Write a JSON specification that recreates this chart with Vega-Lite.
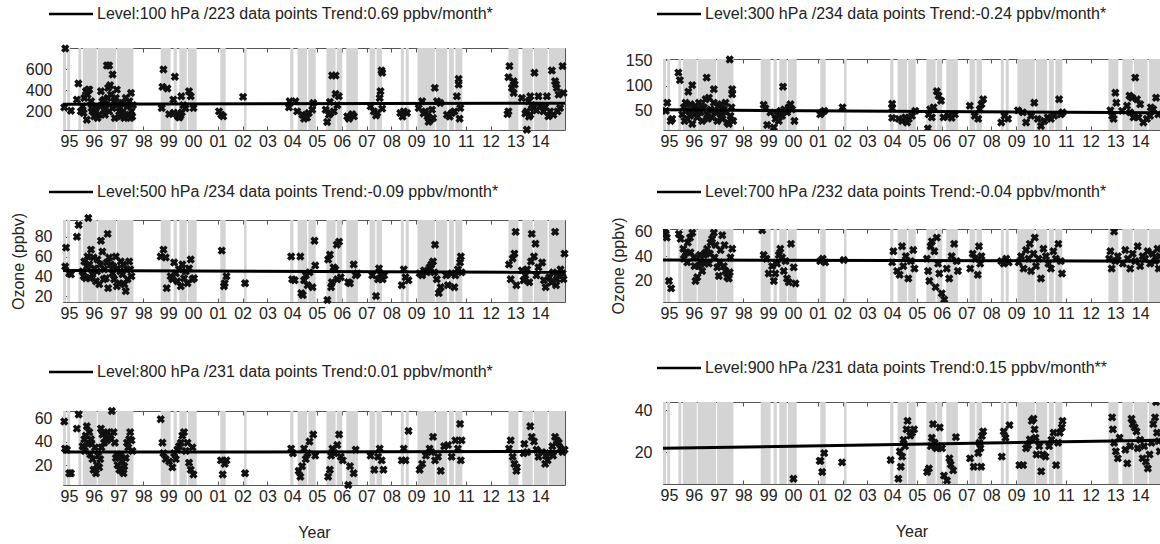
{
"$schema":"https://vega.github.io/schema/vega-lite/v6.json",
"padding":{"left":9,"top":5,"right":0,"bottom":0},
"background":"white",
"config":{"view":{"stroke":"#555","strokeWidth":1},"font":"Liberation Sans",
"axis":{"domain":false,"domainColor":"#555","tickColor":"#555","labelFont":"Liberation Sans","labelFontSize":16,"labelColor":"#222","titleFont":"Liberation Sans","titleFontSize":16,"titleFontWeight":"normal","titleColor":"#222","grid":false,"labelOverlap":false,"labelFlush":false},
"legend":{"orient":"none","title":null,"symbolType":"M-22,0L0,0","symbolSize":16,"symbolStrokeWidth":2.5,"labelFont":"Liberation Sans","labelFontSize":16,"labelColor":"#222","labelOffset":-4,"padding":0,"labelLimit":0}},
"datasets":{
"bands":[{"a":1994.76,"b":1994.88},{"a":1994.93,"b":1995.05},{"a":1995.38,"b":1995.5},{"a":1995.56,"b":1996.12},{"a":1996.16,"b":1996.9},{"a":1996.94,"b":1997.6},{"a":1998.7,"b":1999.1},{"a":1999.22,"b":1999.35},{"a":1999.45,"b":1999.75},{"a":1999.8,"b":2000.15},{"a":2001.1,"b":2001.32},{"a":2002.06,"b":2002.16},{"a":2003.92,"b":2004.05},{"a":2004.22,"b":2004.6},{"a":2004.65,"b":2004.95},{"a":2005.38,"b":2005.75},{"a":2005.8,"b":2006.02},{"a":2006.18,"b":2006.65},{"a":2007.12,"b":2007.35},{"a":2007.4,"b":2007.62},{"a":2008.38,"b":2008.5},{"a":2008.58,"b":2008.7},{"a":2009.05,"b":2009.75},{"a":2009.8,"b":2010.25},{"a":2010.32,"b":2010.52},{"a":2010.58,"b":2010.86},{"a":2012.72,"b":2013.12},{"a":2013.28,"b":2013.7},{"a":2013.75,"b":2014.3},{"a":2014.35,"b":2015.0}],
"p100":[{"t":1994.85,"v":800},{"t":1994.81,"v":238},{"t":1995.08,"v":206},{"t":1995.38,"v":466},{"t":1995.32,"v":312},{"t":1995.48,"v":200},{"t":1995.55,"v":248},{"t":1995.62,"v":328},{"t":1995.68,"v":392},{"t":1995.75,"v":360},{"t":1995.82,"v":408},{"t":1995.89,"v":296},{"t":1995.95,"v":200},{"t":1996.02,"v":152},{"t":1996.09,"v":232},{"t":1996.15,"v":136},{"t":1996.22,"v":168},{"t":1996.29,"v":392},{"t":1996.35,"v":296},{"t":1996.42,"v":216},{"t":1996.49,"v":264},{"t":1996.56,"v":328},{"t":1996.62,"v":200},{"t":1996.69,"v":360},{"t":1995.78,"v":408},{"t":1995.59,"v":184},{"t":1995.72,"v":120},{"t":1995.91,"v":232},{"t":1996.06,"v":184},{"t":1996.26,"v":248},{"t":1996.45,"v":168},{"t":1996.76,"v":232},{"t":1996.82,"v":296},{"t":1996.89,"v":328},{"t":1996.96,"v":264},{"t":1997.03,"v":200},{"t":1997.09,"v":152},{"t":1997.16,"v":184},{"t":1997.23,"v":136},{"t":1997.29,"v":168},{"t":1997.36,"v":248},{"t":1997.43,"v":296},{"t":1997.47,"v":136},{"t":1997.52,"v":200},{"t":1997.16,"v":280},{"t":1997.29,"v":328},{"t":1996.85,"v":136},{"t":1997.06,"v":232},{"t":1996.42,"v":312},{"t":1996.58,"v":424},{"t":1996.53,"v":638},{"t":1996.62,"v":638},{"t":1996.76,"v":552},{"t":1996.66,"v":450},{"t":1996.93,"v":408},{"t":1997.5,"v":376},{"t":1997.55,"v":150},{"t":1997.58,"v":260},{"t":1998.81,"v":600},{"t":1998.77,"v":434},{"t":1998.97,"v":418},{"t":1998.74,"v":232},{"t":1999.27,"v":530},{"t":1999.21,"v":312},{"t":1999.04,"v":174},{"t":1999.23,"v":186},{"t":1999.4,"v":150},{"t":1999.45,"v":140},{"t":1999.5,"v":160},{"t":1999.55,"v":190},{"t":1999.53,"v":344},{"t":1999.61,"v":258},{"t":1999.84,"v":392},{"t":1999.91,"v":344},{"t":2000.02,"v":232},{"t":1999.7,"v":230},{"t":1999.35,"v":170},{"t":2001.05,"v":200},{"t":2001.14,"v":168},{"t":2001.22,"v":152},{"t":2002.02,"v":338},{"t":2003.87,"v":238},{"t":2003.9,"v":296},{"t":2004.13,"v":296},{"t":2004.2,"v":200},{"t":2004.41,"v":168},{"t":2004.54,"v":152},{"t":2004.67,"v":184},{"t":2004.81,"v":216},{"t":2004.85,"v":280},{"t":2004.48,"v":130},{"t":2004.6,"v":140},{"t":2005.35,"v":216},{"t":2005.41,"v":98},{"t":2005.48,"v":168},{"t":2005.55,"v":184},{"t":2005.61,"v":542},{"t":2005.75,"v":542},{"t":2005.75,"v":366},{"t":2005.88,"v":344},{"t":2005.82,"v":258},{"t":2005.68,"v":200},{"t":2005.52,"v":290},{"t":2006.22,"v":152},{"t":2006.35,"v":152},{"t":2006.49,"v":152},{"t":2006.42,"v":174},{"t":2006.29,"v":130},{"t":2007.16,"v":248},{"t":2007.29,"v":200},{"t":2007.43,"v":184},{"t":2007.53,"v":328},{"t":2007.56,"v":392},{"t":2007.6,"v":590},{"t":2007.63,"v":568},{"t":2007.63,"v":226},{"t":2007.38,"v":160},{"t":2008.36,"v":184},{"t":2008.5,"v":200},{"t":2008.63,"v":184},{"t":2008.45,"v":150},{"t":2009.1,"v":232},{"t":2009.24,"v":296},{"t":2009.37,"v":200},{"t":2009.46,"v":152},{"t":2009.57,"v":120},{"t":2009.68,"v":136},{"t":2009.75,"v":424},{"t":2009.64,"v":216},{"t":2009.84,"v":296},{"t":2009.97,"v":280},{"t":2009.5,"v":100},{"t":2009.3,"v":180},{"t":2010.24,"v":168},{"t":2010.44,"v":184},{"t":2010.54,"v":200},{"t":2010.64,"v":344},{"t":2010.71,"v":510},{"t":2010.71,"v":456},{"t":2010.75,"v":130},{"t":2010.78,"v":232},{"t":2010.35,"v":150},{"t":2012.68,"v":174},{"t":2012.72,"v":200},{"t":2012.72,"v":526},{"t":2012.76,"v":632},{"t":2012.93,"v":488},{"t":2012.97,"v":456},{"t":2012.93,"v":376},{"t":2012.86,"v":424},{"t":2013.26,"v":328},{"t":2013.46,"v":24},{"t":2013.53,"v":296},{"t":2013.6,"v":344},{"t":2013.46,"v":200},{"t":2013.6,"v":168},{"t":2013.77,"v":568},{"t":2013.73,"v":232},{"t":2013.93,"v":344},{"t":2014.0,"v":248},{"t":2014.13,"v":200},{"t":2014.27,"v":344},{"t":2014.4,"v":200},{"t":2014.47,"v":590},{"t":2014.6,"v":488},{"t":2014.64,"v":456},{"t":2014.67,"v":424},{"t":2014.74,"v":360},{"t":2014.8,"v":232},{"t":2014.9,"v":632},{"t":2014.94,"v":376},{"t":2014.53,"v":168},{"t":2014.33,"v":152},{"t":2013.4,"v":180},{"t":2013.66,"v":260},{"t":2013.85,"v":210},{"t":2014.2,"v":240},{"t":2014.7,"v":200},{"t":2013.55,"v":150}],
"p300":[{"t":1994.87,"v":50},{"t":1994.93,"v":66},{"t":1995.07,"v":30},{"t":1995.13,"v":34},{"t":1995.38,"v":126},{"t":1995.44,"v":111},{"t":1995.78,"v":88},{"t":1995.94,"v":101},{"t":1996.52,"v":116},{"t":1996.81,"v":93},{"t":1997.45,"v":152},{"t":1997.55,"v":93},{"t":1997.55,"v":83},{"t":1995.54,"v":43},{"t":1995.6,"v":57},{"t":1995.67,"v":66},{"t":1995.74,"v":34},{"t":1995.8,"v":50},{"t":1995.87,"v":63},{"t":1995.94,"v":24},{"t":1996.01,"v":43},{"t":1996.07,"v":60},{"t":1996.14,"v":37},{"t":1996.21,"v":66},{"t":1996.27,"v":47},{"t":1996.34,"v":30},{"t":1996.41,"v":57},{"t":1996.48,"v":73},{"t":1996.54,"v":43},{"t":1996.61,"v":76},{"t":1996.68,"v":53},{"t":1996.74,"v":37},{"t":1996.81,"v":66},{"t":1996.88,"v":47},{"t":1996.95,"v":30},{"t":1997.01,"v":60},{"t":1997.08,"v":43},{"t":1997.15,"v":34},{"t":1997.21,"v":53},{"t":1997.28,"v":66},{"t":1997.35,"v":27},{"t":1997.41,"v":24},{"t":1997.48,"v":40},{"t":1997.52,"v":57},{"t":1997.59,"v":30},{"t":1995.63,"v":30},{"t":1995.85,"v":40},{"t":1996.11,"v":50},{"t":1996.3,"v":60},{"t":1996.57,"v":34},{"t":1996.84,"v":50},{"t":1997.11,"v":63},{"t":1997.31,"v":47},{"t":1998.82,"v":62},{"t":1998.89,"v":55},{"t":1998.96,"v":22},{"t":1999.09,"v":47},{"t":1999.23,"v":17},{"t":1999.29,"v":34},{"t":1999.36,"v":43},{"t":1999.43,"v":30},{"t":1999.5,"v":50},{"t":1999.56,"v":40},{"t":1999.6,"v":98},{"t":1999.65,"v":53},{"t":1999.76,"v":47},{"t":1999.83,"v":57},{"t":1999.9,"v":63},{"t":1999.96,"v":53},{"t":2000.06,"v":30},{"t":2001.17,"v":47},{"t":2001.26,"v":50},{"t":2001.1,"v":43},{"t":2002.0,"v":57},{"t":2004.0,"v":64},{"t":2004.0,"v":55},{"t":2004.0,"v":36},{"t":2004.27,"v":34},{"t":2004.4,"v":30},{"t":2004.53,"v":37},{"t":2004.67,"v":34},{"t":2004.8,"v":40},{"t":2004.93,"v":50},{"t":2004.6,"v":27},{"t":2005.44,"v":15},{"t":2005.47,"v":43},{"t":2005.53,"v":53},{"t":2005.6,"v":37},{"t":2005.67,"v":57},{"t":2005.8,"v":89},{"t":2005.87,"v":80},{"t":2005.97,"v":70},{"t":2006.07,"v":37},{"t":2006.27,"v":40},{"t":2006.4,"v":36},{"t":2006.53,"v":43},{"t":2007.13,"v":60},{"t":2007.33,"v":40},{"t":2007.47,"v":34},{"t":2007.53,"v":53},{"t":2007.6,"v":63},{"t":2007.67,"v":73},{"t":2008.4,"v":27},{"t":2008.53,"v":40},{"t":2008.67,"v":34},{"t":2009.07,"v":51},{"t":2009.27,"v":47},{"t":2009.4,"v":27},{"t":2009.6,"v":40},{"t":2009.73,"v":66},{"t":2009.87,"v":34},{"t":2010.0,"v":20},{"t":2010.13,"v":30},{"t":2010.27,"v":37},{"t":2010.4,"v":34},{"t":2010.53,"v":40},{"t":2010.73,"v":73},{"t":2010.8,"v":43},{"t":2010.87,"v":47},{"t":2012.8,"v":51},{"t":2012.87,"v":40},{"t":2012.93,"v":34},{"t":2013.0,"v":86},{"t":2013.04,"v":66},{"t":2013.27,"v":50},{"t":2013.47,"v":60},{"t":2013.57,"v":80},{"t":2013.67,"v":76},{"t":2013.8,"v":116},{"t":2013.87,"v":73},{"t":2013.93,"v":37},{"t":2014.0,"v":63},{"t":2014.13,"v":27},{"t":2014.27,"v":34},{"t":2014.4,"v":40},{"t":2014.53,"v":53},{"t":2014.64,"v":76},{"t":2014.73,"v":43},{"t":2013.73,"v":37},{"t":2013.6,"v":47},{"t":2014.43,"v":57}],
"p500":[{"t":1994.85,"v":50},{"t":1994.88,"v":69},{"t":1995.01,"v":43},{"t":1995.08,"v":42},{"t":1995.32,"v":80},{"t":1995.39,"v":92},{"t":1995.78,"v":99},{"t":1995.55,"v":45},{"t":1995.62,"v":55},{"t":1995.68,"v":38},{"t":1995.75,"v":60},{"t":1995.82,"v":52},{"t":1995.89,"v":67},{"t":1995.95,"v":42},{"t":1996.02,"v":48},{"t":1996.09,"v":35},{"t":1996.15,"v":57},{"t":1996.22,"v":32},{"t":1996.29,"v":76},{"t":1996.35,"v":65},{"t":1996.42,"v":47},{"t":1996.49,"v":38},{"t":1996.56,"v":83},{"t":1996.58,"v":28},{"t":1996.62,"v":59},{"t":1996.69,"v":52},{"t":1996.76,"v":43},{"t":1996.82,"v":37},{"t":1996.89,"v":60},{"t":1996.96,"v":48},{"t":1997.03,"v":33},{"t":1997.09,"v":55},{"t":1997.16,"v":42},{"t":1997.23,"v":32},{"t":1997.29,"v":25},{"t":1997.36,"v":37},{"t":1997.43,"v":55},{"t":1997.47,"v":47},{"t":1997.52,"v":40},{"t":1995.59,"v":40},{"t":1995.72,"v":50},{"t":1995.86,"v":38},{"t":1995.99,"v":59},{"t":1996.13,"v":45},{"t":1996.26,"v":52},{"t":1996.4,"v":37},{"t":1996.53,"v":54},{"t":1996.79,"v":50},{"t":1996.93,"v":30},{"t":1997.07,"v":45},{"t":1997.2,"v":52},{"t":1997.34,"v":47},{"t":1998.7,"v":60},{"t":1998.81,"v":67},{"t":1998.9,"v":59},{"t":1998.94,"v":28},{"t":1999.24,"v":54},{"t":1999.1,"v":40},{"t":1999.17,"v":37},{"t":1999.31,"v":43},{"t":1999.37,"v":35},{"t":1999.44,"v":47},{"t":1999.51,"v":30},{"t":1999.57,"v":52},{"t":1999.64,"v":38},{"t":1999.71,"v":45},{"t":1999.78,"v":33},{"t":1999.84,"v":48},{"t":1999.91,"v":57},{"t":1999.98,"v":37},{"t":2000.04,"v":38},{"t":2001.16,"v":66},{"t":2001.25,"v":30},{"t":2001.28,"v":33},{"t":2001.35,"v":40},{"t":2002.1,"v":33},{"t":2003.96,"v":60},{"t":2004.0,"v":37},{"t":2004.1,"v":36},{"t":2004.33,"v":60},{"t":2004.37,"v":23},{"t":2004.43,"v":21},{"t":2004.48,"v":36},{"t":2004.55,"v":41},{"t":2004.62,"v":31},{"t":2004.7,"v":44},{"t":2004.82,"v":29},{"t":2004.9,"v":76},{"t":2004.93,"v":51},{"t":2005.42,"v":16},{"t":2005.45,"v":57},{"t":2005.52,"v":62},{"t":2005.57,"v":29},{"t":2005.6,"v":34},{"t":2005.67,"v":49},{"t":2005.74,"v":47},{"t":2005.8,"v":72},{"t":2005.89,"v":75},{"t":2005.82,"v":37},{"t":2005.96,"v":39},{"t":2006.26,"v":34},{"t":2006.33,"v":33},{"t":2006.48,"v":52},{"t":2006.56,"v":41},{"t":2006.63,"v":43},{"t":2007.23,"v":41},{"t":2007.38,"v":20},{"t":2007.46,"v":37},{"t":2007.5,"v":48},{"t":2007.56,"v":42},{"t":2007.65,"v":37},{"t":2007.71,"v":41},{"t":2008.42,"v":31},{"t":2008.5,"v":47},{"t":2008.57,"v":39},{"t":2008.69,"v":36},{"t":2009.14,"v":43},{"t":2009.24,"v":41},{"t":2009.32,"v":46},{"t":2009.43,"v":44},{"t":2009.54,"v":49},{"t":2009.61,"v":52},{"t":2009.68,"v":55},{"t":2009.76,"v":72},{"t":2009.73,"v":44},{"t":2009.83,"v":37},{"t":2009.91,"v":23},{"t":2009.99,"v":29},{"t":2010.21,"v":41},{"t":2010.28,"v":31},{"t":2010.43,"v":43},{"t":2010.54,"v":29},{"t":2010.58,"v":41},{"t":2010.68,"v":47},{"t":2010.77,"v":54},{"t":2010.8,"v":60},{"t":2010.83,"v":44},{"t":2012.74,"v":52},{"t":2012.81,"v":37},{"t":2012.89,"v":58},{"t":2012.96,"v":63},{"t":2013.04,"v":31},{"t":2013.01,"v":85},{"t":2013.26,"v":46},{"t":2013.33,"v":36},{"t":2013.4,"v":41},{"t":2013.47,"v":47},{"t":2013.56,"v":34},{"t":2013.63,"v":55},{"t":2013.66,"v":83},{"t":2013.75,"v":60},{"t":2013.81,"v":73},{"t":2013.85,"v":41},{"t":2013.93,"v":49},{"t":2014.08,"v":54},{"t":2014.15,"v":36},{"t":2014.22,"v":29},{"t":2014.37,"v":39},{"t":2014.52,"v":44},{"t":2014.6,"v":85},{"t":2014.64,"v":31},{"t":2014.75,"v":41},{"t":2014.82,"v":47},{"t":2014.9,"v":43},{"t":2014.98,"v":63},{"t":2014.94,"v":37},{"t":2014.67,"v":37},{"t":2014.45,"v":34}],
"p700":[{"t":1994.84,"v":62},{"t":1994.87,"v":58},{"t":1994.91,"v":55},{"t":1995.0,"v":20},{"t":1995.09,"v":14},{"t":1995.4,"v":58},{"t":1995.47,"v":54},{"t":1995.58,"v":46},{"t":1995.67,"v":43},{"t":1995.76,"v":51},{"t":1995.85,"v":55},{"t":1995.94,"v":59},{"t":1996.01,"v":39},{"t":1996.07,"v":20},{"t":1996.14,"v":23},{"t":1996.21,"v":32},{"t":1996.27,"v":36},{"t":1996.34,"v":28},{"t":1996.41,"v":41},{"t":1996.48,"v":43},{"t":1996.54,"v":46},{"t":1996.61,"v":34},{"t":1996.68,"v":51},{"t":1996.74,"v":54},{"t":1996.81,"v":59},{"t":1996.88,"v":49},{"t":1996.95,"v":31},{"t":1997.01,"v":24},{"t":1997.08,"v":45},{"t":1997.15,"v":57},{"t":1997.21,"v":32},{"t":1997.28,"v":28},{"t":1997.35,"v":23},{"t":1997.41,"v":22},{"t":1997.48,"v":39},{"t":1997.55,"v":46},{"t":1995.6,"v":38},{"t":1995.74,"v":35},{"t":1995.87,"v":43},{"t":1996.03,"v":32},{"t":1996.25,"v":41},{"t":1996.44,"v":34},{"t":1996.65,"v":42},{"t":1996.84,"v":39},{"t":1997.05,"v":35},{"t":1997.24,"v":49},{"t":1997.45,"v":27},{"t":1998.76,"v":61},{"t":1998.82,"v":41},{"t":1998.93,"v":38},{"t":1999.02,"v":26},{"t":1999.16,"v":32},{"t":1999.23,"v":20},{"t":1999.29,"v":26},{"t":1999.36,"v":34},{"t":1999.43,"v":41},{"t":1999.49,"v":46},{"t":1999.56,"v":39},{"t":1999.63,"v":28},{"t":1999.7,"v":36},{"t":1999.76,"v":22},{"t":1999.83,"v":19},{"t":1999.92,"v":50},{"t":2000.03,"v":31},{"t":2000.1,"v":18},{"t":2001.1,"v":36},{"t":2001.2,"v":38},{"t":2001.3,"v":35},{"t":2002.05,"v":37},{"t":2004.0,"v":35},{"t":2004.05,"v":44},{"t":2004.2,"v":28},{"t":2004.3,"v":25},{"t":2004.4,"v":48},{"t":2004.45,"v":32},{"t":2004.55,"v":40},{"t":2004.65,"v":22},{"t":2004.75,"v":36},{"t":2004.85,"v":45},{"t":2004.9,"v":30},{"t":2005.4,"v":38},{"t":2005.45,"v":28},{"t":2005.5,"v":20},{"t":2005.55,"v":48},{"t":2005.6,"v":52},{"t":2005.7,"v":44},{"t":2005.75,"v":15},{"t":2005.8,"v":55},{"t":2005.85,"v":34},{"t":2005.9,"v":26},{"t":2006.0,"v":10},{"t":2006.1,"v":5},{"t":2006.2,"v":30},{"t":2006.3,"v":22},{"t":2006.4,"v":40},{"t":2006.5,"v":50},{"t":2006.6,"v":36},{"t":2006.65,"v":28},{"t":2007.15,"v":30},{"t":2007.25,"v":42},{"t":2007.35,"v":38},{"t":2007.45,"v":25},{"t":2007.5,"v":48},{"t":2007.55,"v":34},{"t":2007.6,"v":40},{"t":2008.4,"v":36},{"t":2008.5,"v":34},{"t":2008.6,"v":38},{"t":2008.7,"v":35},{"t":2009.1,"v":35},{"t":2009.2,"v":40},{"t":2009.3,"v":30},{"t":2009.4,"v":45},{"t":2009.5,"v":38},{"t":2009.55,"v":50},{"t":2009.6,"v":28},{"t":2009.7,"v":42},{"t":2009.75,"v":55},{"t":2009.8,"v":32},{"t":2009.9,"v":38},{"t":2010.0,"v":22},{"t":2010.1,"v":46},{"t":2010.2,"v":40},{"t":2010.3,"v":34},{"t":2010.4,"v":30},{"t":2010.5,"v":44},{"t":2010.6,"v":38},{"t":2010.7,"v":50},{"t":2010.8,"v":36},{"t":2010.85,"v":26},{"t":2012.75,"v":38},{"t":2012.8,"v":44},{"t":2012.85,"v":30},{"t":2012.95,"v":60},{"t":2013.0,"v":36},{"t":2013.1,"v":40},{"t":2013.3,"v":34},{"t":2013.4,"v":45},{"t":2013.5,"v":38},{"t":2013.6,"v":30},{"t":2013.7,"v":42},{"t":2013.8,"v":36},{"t":2013.9,"v":48},{"t":2014.0,"v":32},{"t":2014.1,"v":40},{"t":2014.2,"v":38},{"t":2014.3,"v":44},{"t":2014.4,"v":34},{"t":2014.5,"v":42},{"t":2014.6,"v":36},{"t":2014.7,"v":46},{"t":2014.78,"v":40},{"t":2014.75,"v":30},{"t":2014.65,"v":38}],
"p800":[{"t":1994.81,"v":57},{"t":1994.84,"v":34},{"t":1994.92,"v":33},{"t":1995.01,"v":13},{"t":1995.08,"v":13},{"t":1995.32,"v":51},{"t":1995.39,"v":63},{"t":1995.55,"v":36},{"t":1995.62,"v":42},{"t":1995.68,"v":45},{"t":1995.72,"v":53},{"t":1995.78,"v":38},{"t":1995.82,"v":48},{"t":1995.86,"v":29},{"t":1995.89,"v":42},{"t":1995.95,"v":25},{"t":1995.99,"v":16},{"t":1996.05,"v":35},{"t":1996.09,"v":13},{"t":1996.13,"v":20},{"t":1996.18,"v":28},{"t":1996.22,"v":18},{"t":1996.29,"v":51},{"t":1996.31,"v":35},{"t":1996.35,"v":46},{"t":1996.42,"v":39},{"t":1996.49,"v":43},{"t":1996.56,"v":48},{"t":1996.62,"v":43},{"t":1996.69,"v":45},{"t":1996.73,"v":66},{"t":1996.8,"v":48},{"t":1996.85,"v":39},{"t":1996.89,"v":26},{"t":1996.96,"v":20},{"t":1997.03,"v":16},{"t":1997.07,"v":28},{"t":1997.12,"v":15},{"t":1997.16,"v":23},{"t":1997.23,"v":19},{"t":1997.29,"v":26},{"t":1997.34,"v":39},{"t":1997.39,"v":35},{"t":1997.43,"v":42},{"t":1997.47,"v":48},{"t":1997.52,"v":41},{"t":1997.56,"v":32},{"t":1995.64,"v":32},{"t":1995.91,"v":38},{"t":1996.26,"v":25},{"t":1996.53,"v":41},{"t":1996.95,"v":29},{"t":1997.2,"v":13},{"t":1998.7,"v":59},{"t":1998.77,"v":39},{"t":1998.81,"v":30},{"t":1998.9,"v":25},{"t":1999.04,"v":23},{"t":1999.17,"v":18},{"t":1999.24,"v":30},{"t":1999.31,"v":25},{"t":1999.37,"v":33},{"t":1999.44,"v":36},{"t":1999.51,"v":39},{"t":1999.57,"v":45},{"t":1999.64,"v":48},{"t":1999.71,"v":32},{"t":1999.78,"v":39},{"t":1999.84,"v":22},{"t":1999.91,"v":16},{"t":2000.02,"v":12},{"t":1999.98,"v":35},{"t":2001.13,"v":24},{"t":2001.2,"v":12},{"t":2001.28,"v":21},{"t":2001.35,"v":24},{"t":2002.1,"v":13},{"t":2003.96,"v":34},{"t":2004.03,"v":30},{"t":2004.26,"v":15},{"t":2004.33,"v":10},{"t":2004.4,"v":19},{"t":2004.48,"v":34},{"t":2004.55,"v":25},{"t":2004.62,"v":30},{"t":2004.7,"v":40},{"t":2004.85,"v":46},{"t":2004.93,"v":28},{"t":2005.45,"v":10},{"t":2005.52,"v":16},{"t":2005.57,"v":28},{"t":2005.62,"v":34},{"t":2005.71,"v":30},{"t":2005.82,"v":37},{"t":2005.89,"v":46},{"t":2005.96,"v":27},{"t":2006.04,"v":24},{"t":2006.26,"v":3},{"t":2006.33,"v":19},{"t":2006.48,"v":13},{"t":2006.56,"v":33},{"t":2007.16,"v":28},{"t":2007.31,"v":16},{"t":2007.46,"v":27},{"t":2007.53,"v":34},{"t":2007.61,"v":24},{"t":2007.68,"v":16},{"t":2008.42,"v":24},{"t":2008.5,"v":34},{"t":2008.57,"v":24},{"t":2008.69,"v":49},{"t":2009.14,"v":16},{"t":2009.24,"v":21},{"t":2009.39,"v":28},{"t":2009.54,"v":34},{"t":2009.61,"v":31},{"t":2009.68,"v":44},{"t":2009.76,"v":24},{"t":2009.88,"v":27},{"t":2009.99,"v":15},{"t":2010.13,"v":36},{"t":2010.28,"v":37},{"t":2010.43,"v":27},{"t":2010.58,"v":41},{"t":2010.68,"v":34},{"t":2010.77,"v":55},{"t":2010.8,"v":24},{"t":2010.83,"v":41},{"t":2012.74,"v":34},{"t":2012.81,"v":41},{"t":2012.89,"v":27},{"t":2012.96,"v":21},{"t":2013.06,"v":18},{"t":2013.04,"v":15},{"t":2013.33,"v":30},{"t":2013.47,"v":31},{"t":2013.6,"v":53},{"t":2013.66,"v":44},{"t":2013.75,"v":40},{"t":2013.85,"v":33},{"t":2013.93,"v":27},{"t":2014.08,"v":31},{"t":2014.2,"v":21},{"t":2014.3,"v":24},{"t":2014.37,"v":30},{"t":2014.49,"v":36},{"t":2014.6,"v":44},{"t":2014.67,"v":41},{"t":2014.75,"v":39},{"t":2014.82,"v":34},{"t":2014.9,"v":31},{"t":2014.98,"v":33},{"t":2014.52,"v":28},{"t":2014.23,"v":28},{"t":2013.36,"v":38}],
"p900":[{"t":2000.02,"v":7.5},{"t":2001.11,"v":16},{"t":2001.18,"v":10.7},{"t":2001.26,"v":19.7},{"t":2001.08,"v":16},{"t":2001.98,"v":15.3},{"t":2003.94,"v":16.4},{"t":2004.25,"v":7.5},{"t":2004.31,"v":20.5},{"t":2004.35,"v":13.2},{"t":2004.4,"v":18},{"t":2004.46,"v":26},{"t":2004.52,"v":23},{"t":2004.58,"v":31},{"t":2004.62,"v":35},{"t":2004.73,"v":28},{"t":2004.8,"v":29.4},{"t":2004.88,"v":31},{"t":2005.41,"v":10.7},{"t":2005.48,"v":12.4},{"t":2005.56,"v":23},{"t":2005.6,"v":27},{"t":2005.65,"v":33.5},{"t":2005.71,"v":24.6},{"t":2005.78,"v":22},{"t":2005.84,"v":23},{"t":2005.92,"v":31.9},{"t":2006.01,"v":22},{"t":2006.09,"v":9},{"t":2006.21,"v":6.7},{"t":2006.31,"v":17.2},{"t":2006.36,"v":14.3},{"t":2006.46,"v":11.5},{"t":2006.57,"v":27.3},{"t":2007.14,"v":17.2},{"t":2007.29,"v":13.2},{"t":2007.52,"v":24.6},{"t":2007.56,"v":22},{"t":2007.62,"v":27.8},{"t":2007.67,"v":30},{"t":2007.47,"v":19.7},{"t":2007.59,"v":13.2},{"t":2008.42,"v":18},{"t":2008.5,"v":30},{"t":2008.57,"v":27},{"t":2008.73,"v":33},{"t":2009.13,"v":14},{"t":2009.28,"v":14},{"t":2009.4,"v":22},{"t":2009.48,"v":23.4},{"t":2009.55,"v":26.2},{"t":2009.63,"v":35},{"t":2009.7,"v":36},{"t":2009.74,"v":31},{"t":2009.78,"v":27},{"t":2009.82,"v":19},{"t":2009.93,"v":23},{"t":2010.01,"v":11},{"t":2010.08,"v":19},{"t":2010.18,"v":18},{"t":2010.33,"v":23},{"t":2010.42,"v":26},{"t":2010.51,"v":29.4},{"t":2010.61,"v":14},{"t":2010.69,"v":24.6},{"t":2010.76,"v":29.4},{"t":2010.84,"v":31.9},{"t":2010.87,"v":35},{"t":2012.87,"v":36.7},{"t":2012.9,"v":31},{"t":2012.95,"v":24.6},{"t":2013.02,"v":20.5},{"t":2013.1,"v":17.2},{"t":2013.17,"v":27},{"t":2013.4,"v":21.3},{"t":2013.48,"v":14.8},{"t":2013.6,"v":23},{"t":2013.65,"v":36},{"t":2013.7,"v":33.5},{"t":2013.78,"v":31.9},{"t":2013.85,"v":30},{"t":2013.9,"v":22},{"t":2014.0,"v":26},{"t":2014.1,"v":17.2},{"t":2014.23,"v":15.6},{"t":2014.31,"v":12.4},{"t":2014.38,"v":19},{"t":2014.53,"v":33.5},{"t":2014.6,"v":36.7},{"t":2014.64,"v":44},{"t":2014.68,"v":29.4},{"t":2014.75,"v":25.4},{"t":2014.79,"v":20.5},{"t":2014.46,"v":24.6},{"t":2014.16,"v":23}]
},
"concat":[
{"vconcat":[
{"width":502,"height":82,"layer":[
{"data":{"name":"bands"},"mark":{"type":"rect","color":"#d4d4d4"},"encoding":{"x":{"field":"a","type":"quantitative","scale":{"domain":[1994.76,2015],"nice":false,"zero":false},"axis":{"orient":"bottom","values":[1995,1996,1997,1998,1999,2000,2001,2002,2003,2004,2005,2006,2007,2008,2009,2010,2011,2012,2013,2014],"labelExpr":"substring(format(datum.value,'d'),2,4)","tickSize":-4,"labelPadding":7,"labelOverlap":false,"title":null}},"x2":{"field":"b"}}},
{"data":{"name":"p100"},"mark":{"type":"point","shape":"cross","angle":45,"filled":true,"size":72,"opacity":1,"color":"#111"},"encoding":{"x":{"field":"t","type":"quantitative","scale":{"domain":[1994.76,2015],"nice":false,"zero":false},"axis":{"orient":"top","values":[1995,1996,1997,1998,1999,2000,2001,2002,2003,2004,2005,2006,2007,2008,2009,2010,2011,2012,2013,2014],"labels":false,"tickSize":-4,"title":null}},"y":{"field":"v","type":"quantitative","scale":{"domain":[22,805],"nice":false,"zero":false},"axis":{"values":[200,400,600],"tickSize":-4,"labelPadding":15,"labelOverlap":false,"title":null}}}},
{"data":{"values":[{"t":1994.76,"v":268,"k":"Level:100 hPa /223 data points Trend:0.69 ppbv/month*"},{"t":2015,"v":278,"k":"Level:100 hPa /223 data points Trend:0.69 ppbv/month*"}]},"mark":{"type":"line","strokeWidth":3},"encoding":{"x":{"field":"t","type":"quantitative","scale":{"domain":[1994.76,2015],"nice":false,"zero":false},"axis":{"orient":"bottom","labels":false,"ticks":false,"title":null}},"y":{"field":"v","type":"quantitative","scale":{"domain":[22,805],"nice":false,"zero":false},"axis":{"values":[200,400,600],"tickSize":-4,"labelPadding":15,"labelOverlap":false,"title":null}},"color":{"field":"k","type":"nominal","scale":{"range":["#000000"]},"legend":{"legendX":22,"legendY":-42}}}}
]},
{"width":502,"height":82,"layer":[
{"data":{"name":"bands"},"mark":{"type":"rect","color":"#d4d4d4"},"encoding":{"x":{"field":"a","type":"quantitative","scale":{"domain":[1994.76,2015],"nice":false,"zero":false},"axis":{"orient":"bottom","values":[1995,1996,1997,1998,1999,2000,2001,2002,2003,2004,2005,2006,2007,2008,2009,2010,2011,2012,2013,2014],"labelExpr":"substring(format(datum.value,'d'),2,4)","tickSize":-4,"labelPadding":7,"labelOverlap":false,"title":" ","titleFontSize":1,"titlePadding":7}},"x2":{"field":"b"}}},
{"data":{"name":"p500"},"mark":{"type":"point","shape":"cross","angle":45,"filled":true,"size":72,"opacity":1,"color":"#111"},"encoding":{"x":{"field":"t","type":"quantitative","scale":{"domain":[1994.76,2015],"nice":false,"zero":false},"axis":{"orient":"top","values":[1995,1996,1997,1998,1999,2000,2001,2002,2003,2004,2005,2006,2007,2008,2009,2010,2011,2012,2013,2014],"labels":false,"tickSize":-4,"title":null}},"y":{"field":"v","type":"quantitative","scale":{"domain":[14,97],"nice":false,"zero":false},"axis":{"values":[20,40,60,80],"tickSize":-4,"labelPadding":15,"labelOverlap":false,"title":"Ozone (ppbv)","titlePadding":8}}}},
{"data":{"values":[{"t":1994.76,"v":46,"k":"Level:500 hPa /234 data points Trend:-0.09 ppbv/month*"},{"t":2015,"v":44,"k":"Level:500 hPa /234 data points Trend:-0.09 ppbv/month*"}]},"mark":{"type":"line","strokeWidth":3},"encoding":{"x":{"field":"t","type":"quantitative","scale":{"domain":[1994.76,2015],"nice":false,"zero":false},"axis":{"orient":"bottom","labels":false,"ticks":false,"title":null}},"y":{"field":"v","type":"quantitative","scale":{"domain":[14,97],"nice":false,"zero":false},"axis":{"values":[20,40,60,80],"tickSize":-4,"labelPadding":15,"labelOverlap":false,"title":"Ozone (ppbv)","titlePadding":8}},"color":{"field":"k","type":"nominal","scale":{"range":["#000000"]},"legend":{"legendX":22,"legendY":-36}}}}
]},
{"width":502,"height":74,"layer":[
{"data":{"name":"bands"},"mark":{"type":"rect","color":"#d4d4d4"},"encoding":{"x":{"field":"a","type":"quantitative","scale":{"domain":[1994.76,2015],"nice":false,"zero":false},"axis":{"orient":"bottom","values":[1995,1996,1997,1998,1999,2000,2001,2002,2003,2004,2005,2006,2007,2008,2009,2010,2011,2012,2013,2014],"labelExpr":"substring(format(datum.value,'d'),2,4)","tickSize":-4,"labelPadding":7,"labelOverlap":false,"title":"Year","titlePadding":20}},"x2":{"field":"b"}}},
{"data":{"name":"p800"},"mark":{"type":"point","shape":"cross","angle":45,"filled":true,"size":72,"opacity":1,"color":"#111"},"encoding":{"x":{"field":"t","type":"quantitative","scale":{"domain":[1994.76,2015],"nice":false,"zero":false},"axis":{"orient":"top","values":[1995,1996,1997,1998,1999,2000,2001,2002,2003,2004,2005,2006,2007,2008,2009,2010,2011,2012,2013,2014],"labels":false,"tickSize":-4,"title":null}},"y":{"field":"v","type":"quantitative","scale":{"domain":[3,66],"nice":false,"zero":false},"axis":{"values":[20,40,60],"tickSize":-4,"labelPadding":15,"labelOverlap":false,"title":null}}}},
{"data":{"values":[{"t":1994.76,"v":31,"k":"Level:800 hPa /231 data points Trend:0.01 ppbv/month*"},{"t":2015,"v":31.5,"k":"Level:800 hPa /231 data points Trend:0.01 ppbv/month*"}]},"mark":{"type":"line","strokeWidth":3},"encoding":{"x":{"field":"t","type":"quantitative","scale":{"domain":[1994.76,2015],"nice":false,"zero":false},"axis":{"orient":"bottom","labels":false,"ticks":false,"title":null}},"y":{"field":"v","type":"quantitative","scale":{"domain":[3,66],"nice":false,"zero":false},"axis":{"values":[20,40,60],"tickSize":-4,"labelPadding":15,"labelOverlap":false,"title":null}},"color":{"field":"k","type":"nominal","scale":{"range":["#000000"]},"legend":{"legendX":22,"legendY":-47}}}}
]}
],"spacing":33,"resolve":{"scale":{"color":"independent"},"legend":{"color":"independent"}}},
{"vconcat":[
{"width":497,"height":82,"view":{"stroke":null},"layer":[
{"data":{"name":"bands"},"mark":{"type":"rect","color":"#d4d4d4","clip":true},"encoding":{"x":{"field":"a","type":"quantitative","scale":{"domain":[1994.76,2014.8],"nice":false,"zero":false},"axis":{"orient":"bottom","values":[1995,1996,1997,1998,1999,2000,2001,2002,2003,2004,2005,2006,2007,2008,2009,2010,2011,2012,2013,2014],"labelExpr":"substring(format(datum.value,'d'),2,4)","tickSize":-4,"labelPadding":7,"labelOverlap":false,"domain":true,"title":null}},"x2":{"field":"b"},"y":{"datum":12,"type":"quantitative","scale":{"domain":[12,174.8],"nice":false,"zero":false},"axis":{"values":[50,100,150],"tickSize":-4,"labelPadding":15,"labelOverlap":false,"title":null}},"y2":{"datum":153}}},
{"data":{"name":"p300"},"mark":{"type":"point","shape":"cross","angle":45,"filled":true,"size":72,"opacity":1,"color":"#111","clip":true},"encoding":{"x":{"field":"t","type":"quantitative","scale":{"domain":[1994.76,2014.8],"nice":false,"zero":false},"axis":{"orient":"top","offset":-11,"domain":true,"values":[1995,1996,1997,1998,1999,2000,2001,2002,2003,2004,2005,2006,2007,2008,2009,2010,2011,2012,2013,2014],"labels":false,"tickSize":-4,"title":null}},"y":{"field":"v","type":"quantitative","scale":{"domain":[12,174.8],"nice":false,"zero":false},"axis":{"values":[50,100,150],"tickSize":-4,"labelPadding":15,"labelOverlap":false,"title":null}}}},
{"data":{"values":[{"t":1994.76,"v":52,"k":"Level:300 hPa /234 data points Trend:-0.24 ppbv/month*"},{"t":2014.8,"v":46,"k":"Level:300 hPa /234 data points Trend:-0.24 ppbv/month*"}]},"mark":{"type":"line","strokeWidth":3,"clip":true},"encoding":{"x":{"field":"t","type":"quantitative","scale":{"domain":[1994.76,2014.8],"nice":false,"zero":false},"axis":{"orient":"bottom","labels":false,"ticks":false,"title":null}},"y":{"field":"v","type":"quantitative","scale":{"domain":[12,174.8],"nice":false,"zero":false},"axis":{"values":[50,100,150],"tickSize":-4,"labelPadding":15,"labelOverlap":false,"title":null}},"color":{"field":"k","type":"nominal","scale":{"range":["#000000"]},"legend":{"legendX":30,"legendY":-42}}}}
]},
{"width":497,"height":73,"layer":[
{"data":{"name":"bands"},"mark":{"type":"rect","color":"#d4d4d4","clip":true},"encoding":{"x":{"field":"a","type":"quantitative","scale":{"domain":[1994.76,2014.8],"nice":false,"zero":false},"axis":{"orient":"bottom","values":[1995,1996,1997,1998,1999,2000,2001,2002,2003,2004,2005,2006,2007,2008,2009,2010,2011,2012,2013,2014],"labelExpr":"substring(format(datum.value,'d'),2,4)","tickSize":-4,"labelPadding":7,"labelOverlap":false,"title":" ","titleFontSize":1,"titlePadding":2}},"x2":{"field":"b"}}},
{"data":{"name":"p700"},"mark":{"type":"point","shape":"cross","angle":45,"filled":true,"size":72,"opacity":1,"color":"#111","clip":true},"encoding":{"x":{"field":"t","type":"quantitative","scale":{"domain":[1994.76,2014.8],"nice":false,"zero":false},"axis":{"orient":"top","values":[1995,1996,1997,1998,1999,2000,2001,2002,2003,2004,2005,2006,2007,2008,2009,2010,2011,2012,2013,2014],"labels":false,"tickSize":-4,"title":null}},"y":{"field":"v","type":"quantitative","scale":{"domain":[3,62],"nice":false,"zero":false},"axis":{"values":[20,40,60],"tickSize":-4,"labelPadding":15,"labelOverlap":false,"title":"Ozone (ppbv)","titlePadding":8}}}},
{"data":{"values":[{"t":1994.76,"v":37,"k":"Level:700 hPa /232 data points Trend:-0.04 ppbv/month*"},{"t":2014.8,"v":36,"k":"Level:700 hPa /232 data points Trend:-0.04 ppbv/month*"}]},"mark":{"type":"line","strokeWidth":3,"clip":true},"encoding":{"x":{"field":"t","type":"quantitative","scale":{"domain":[1994.76,2014.8],"nice":false,"zero":false},"axis":{"orient":"bottom","labels":false,"ticks":false,"title":null}},"y":{"field":"v","type":"quantitative","scale":{"domain":[3,62],"nice":false,"zero":false},"axis":{"values":[20,40,60],"tickSize":-4,"labelPadding":15,"labelOverlap":false,"title":"Ozone (ppbv)","titlePadding":8}},"color":{"field":"k","type":"nominal","scale":{"range":["#000000"]},"legend":{"legendX":30,"legendY":-45}}}}
]},
{"width":497,"height":82,"layer":[
{"data":{"name":"bands"},"mark":{"type":"rect","color":"#d4d4d4","clip":true},"encoding":{"x":{"field":"a","type":"quantitative","scale":{"domain":[1994.76,2014.8],"nice":false,"zero":false},"axis":{"orient":"bottom","values":[1995,1996,1997,1998,1999,2000,2001,2002,2003,2004,2005,2006,2007,2008,2009,2010,2011,2012,2013,2014],"labelExpr":"substring(format(datum.value,'d'),2,4)","tickSize":-4,"labelPadding":7,"labelOverlap":false,"title":"Year","titlePadding":20}},"x2":{"field":"b"}}},
{"data":{"name":"p900"},"mark":{"type":"point","shape":"cross","angle":45,"filled":true,"size":72,"opacity":1,"color":"#111","clip":true},"encoding":{"x":{"field":"t","type":"quantitative","scale":{"domain":[1994.76,2014.8],"nice":false,"zero":false},"axis":{"orient":"top","values":[1995,1996,1997,1998,1999,2000,2001,2002,2003,2004,2005,2006,2007,2008,2009,2010,2011,2012,2013,2014],"labels":false,"tickSize":-4,"title":null}},"y":{"field":"v","type":"quantitative","scale":{"domain":[5,44],"nice":false,"zero":false},"axis":{"values":[20,40],"tickSize":-4,"labelPadding":15,"labelOverlap":false,"title":null}}}},
{"data":{"values":[{"t":1994.76,"v":22,"k":"Level:900 hPa /231 data points Trend:0.15 ppbv/month**"},{"t":2014.8,"v":25.8,"k":"Level:900 hPa /231 data points Trend:0.15 ppbv/month**"}]},"mark":{"type":"line","strokeWidth":3,"clip":true},"encoding":{"x":{"field":"t","type":"quantitative","scale":{"domain":[1994.76,2014.8],"nice":false,"zero":false},"axis":{"orient":"bottom","labels":false,"ticks":false,"title":null}},"y":{"field":"v","type":"quantitative","scale":{"domain":[5,44],"nice":false,"zero":false},"axis":{"values":[20,40],"tickSize":-4,"labelPadding":15,"labelOverlap":false,"title":null}},"color":{"field":"k","type":"nominal","scale":{"range":["#000000"]},"legend":{"legendX":30,"legendY":-42}}}}
]}
],"spacing":34,"resolve":{"scale":{"color":"independent"},"legend":{"color":"independent"}}}
],
"columns":2,
"align":"none",
"bounds":"full",
"spacing":{"row":0,"column":37},
"resolve":{"scale":{"color":"independent"},"legend":{"color":"independent"}}
}
